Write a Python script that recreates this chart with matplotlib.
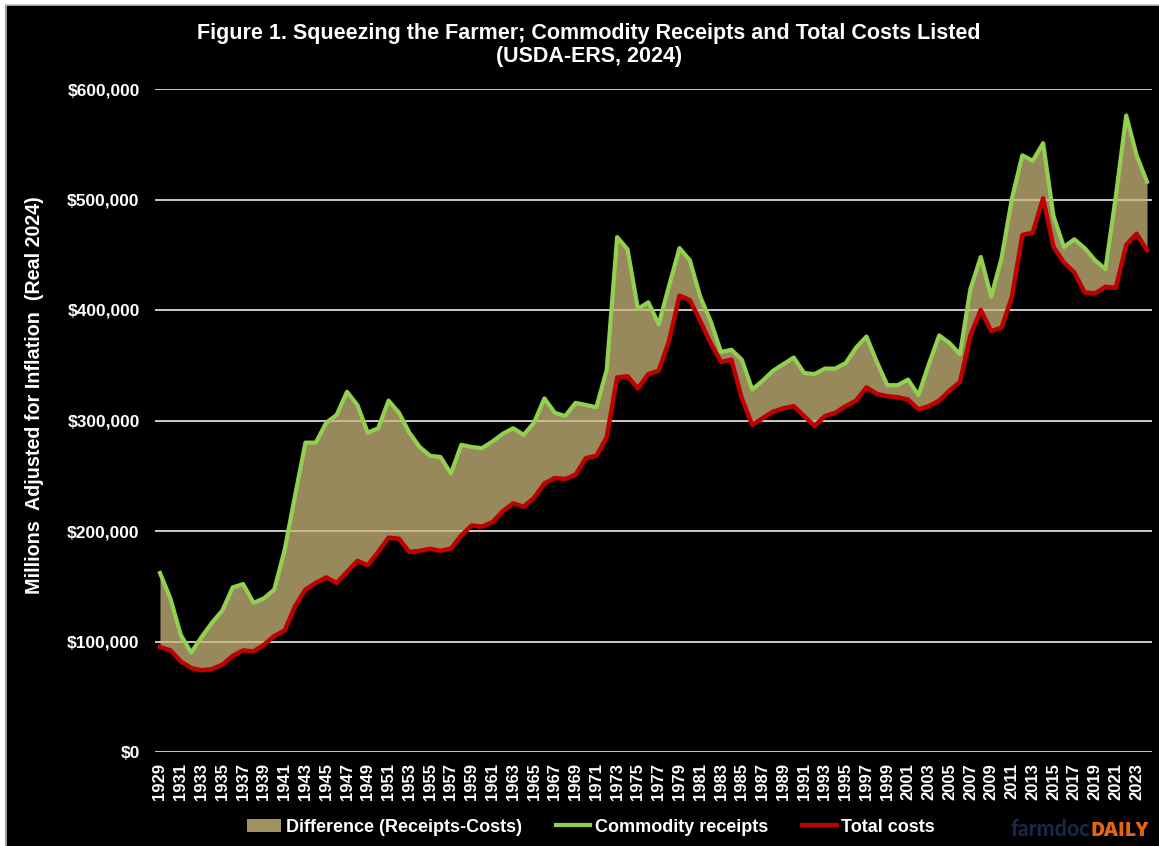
import matplotlib
matplotlib.use("Agg")
import matplotlib.pyplot as plt
from matplotlib.patches import Patch, Rectangle
from matplotlib.lines import Line2D
from matplotlib.ticker import FuncFormatter, MultipleLocator

plt.rcParams['font.family'] = ['Liberation Sans', 'DejaVu Sans']
plt.rcParams['font.weight'] = 'bold'

years = list(range(1929, 2025))

receipts = [
    162000, 139000, 106000, 90000, 104000, 117000, 128000, 149000, 152000, 135000,
    139000, 147000, 183000, 232000, 280000, 280000, 298000, 305000, 326000, 314000,
    289000, 293000, 318000, 307000, 289000, 276000, 268000, 267000, 252000, 278000,
    276000, 275000, 281000, 288000, 293000, 287000, 298000, 320000, 307000, 304000,
    316000, 314000, 312000, 346000, 466000, 455000, 401000, 407000, 387000, 422000,
    456000, 445000, 412000, 390000, 362000, 364000, 355000, 328000, 336000, 345000,
    351000, 357000, 343000, 342000, 347000, 347000, 352000, 366000, 376000, 353000,
    332000, 332000, 337000, 323000, 351000, 377000, 370000, 360000, 419000, 448000,
    412000, 447000, 501000, 540000, 535000, 551000, 485000, 457000, 464000, 456000,
    445000, 437000, 503000, 576000, 540000, 516000,
]

costs = [
    95000, 92000, 82000, 76000, 74000, 75000, 79000, 87000, 92000, 91000,
    97000, 105000, 110000, 132000, 147000, 153000, 158000, 153000, 163000, 173000,
    169000, 181000, 194000, 193000, 181000, 182000, 184000, 182000, 184000, 196000,
    205000, 204000, 208000, 218000, 225000, 222000, 230000, 243000, 248000, 247000,
    251000, 266000, 268000, 285000, 339000, 340000, 329000, 342000, 345000, 372000,
    413000, 409000, 390000, 370000, 353000, 355000, 320000, 296000, 302000, 308000,
    311000, 313000, 304000, 295000, 304000, 307000, 313000, 318000, 330000, 324000,
    322000, 321000, 319000, 310000, 313000, 318000, 327000, 335000, 377000, 400000,
    381000, 384000, 412000, 468000, 470000, 501000, 457000, 443000, 434000, 416000,
    415000, 421000, 420000, 459000, 469000, 454000,
]

tick_years = list(range(1929, 2024, 2))

title_text = ("Figure 1. Squeezing the Farmer; Commodity Receipts and Total Costs Listed\n"
              "(USDA-ERS, 2024)")
ylabel_text = "Millions  Adjusted for Inflation  (Real 2024)"
legend_labels = ["Difference (Receipts-Costs)", "Commodity receipts", "Total costs"]

W, H = 1159, 846
fig = plt.figure(figsize=(W / 100, H / 100), dpi=100, facecolor='black')

# white margin + light border (top and left)
fig.patches.append(Rectangle((0, 1 - 5 / H), 1, 5 / H, transform=fig.transFigure,
                             facecolor='white', edgecolor='none', zorder=0))
fig.patches.append(Rectangle((0, 0), 5 / W, 1, transform=fig.transFigure,
                             facecolor='white', edgecolor='none', zorder=0))
fig.lines.append(Line2D([5.5 / W, 5.5 / W], [0, 1 - 5.5 / H], transform=fig.transFigure,
                        color='#bfbfbf', lw=1.2))
fig.lines.append(Line2D([5.5 / W, 1], [1 - 5.5 / H, 1 - 5.5 / H], transform=fig.transFigure,
                        color='#bfbfbf', lw=1.2))

left, right = 155 / W, 1152 / W
bottom, top = 1 - 752 / H, 1 - 89 / H
ax = fig.add_axes([left, bottom, right - left, top - bottom])
ax.set_facecolor('black')

fill_color = '#CBB87B'
green = '#92D050'
red = '#C00000'

ax.fill_between(years, costs, receipts, color=fill_color, alpha=0.75, lw=0, zorder=2)
ax.plot(years, receipts, color=green, lw=3.0, zorder=3, solid_joinstyle='round')
ax.plot(years, costs, color=red, lw=3.2, zorder=4, solid_joinstyle='round')

ax.set_xlim(1928.52, 2024.48)
ax.set_ylim(0, 600000)
ax.yaxis.set_major_locator(MultipleLocator(100000))
ax.yaxis.set_major_formatter(FuncFormatter(lambda v, p: f"${v:,.0f}"))
ax.set_xticks(tick_years)
ax.set_xticklabels([str(y) for y in tick_years], rotation=90)

ax.grid(axis='y', color='#d9d9d9', lw=1.3, zorder=1)
ax.set_axisbelow(True)
for s in ax.spines.values():
    s.set_visible(False)
ax.tick_params(axis='both', length=0, colors='white', labelsize=12)
ax.tick_params(axis='x', pad=8)
ax.tick_params(axis='y', pad=11, labelsize=12.5)
for lbl in ax.get_xticklabels() + ax.get_yticklabels():
    lbl.set_fontweight('bold')

fig.text(589 / W, 1 - 45 / H, title_text, ha='center', va='center', color='white',
         fontsize=15.5, fontweight='bold', linespacing=1.15)
fig.text(35 / W, 1 - 395 / H, ylabel_text, ha='center', va='center', rotation=90,
         color='white', fontsize=14.2, fontweight='bold')

handles = [Patch(facecolor=fill_color, alpha=0.8, edgecolor='none'),
           Line2D([], [], color=green, lw=3.0),
           Line2D([], [], color=red, lw=3.0)]
leg = fig.legend(handles, legend_labels, loc='center', bbox_to_anchor=(591 / W, 1 - 827 / H),
                 ncol=3, frameon=False, handlelength=1.9, handletextpad=0.25,
                 columnspacing=1.9, prop={'size': 13, 'weight': 'bold'})
for t in leg.get_texts():
    t.set_color('white')

# farmdoc daily logo text
fig.text(1090 / W, 1 - 836 / H, "farmdoc", ha='right', va='baseline', color='#1c2a4a',
         fontsize=15.5, fontweight='bold', family=['Lato', 'DejaVu Sans'])
fig.text(1091 / W, 1 - 836 / H, "DAILY", ha='left', va='baseline', color='#e8650f',
         fontsize=14, fontweight='heavy', family=['Open Sans', 'DejaVu Sans'])

fig.savefig('out.png', dpi=100, facecolor='black')
